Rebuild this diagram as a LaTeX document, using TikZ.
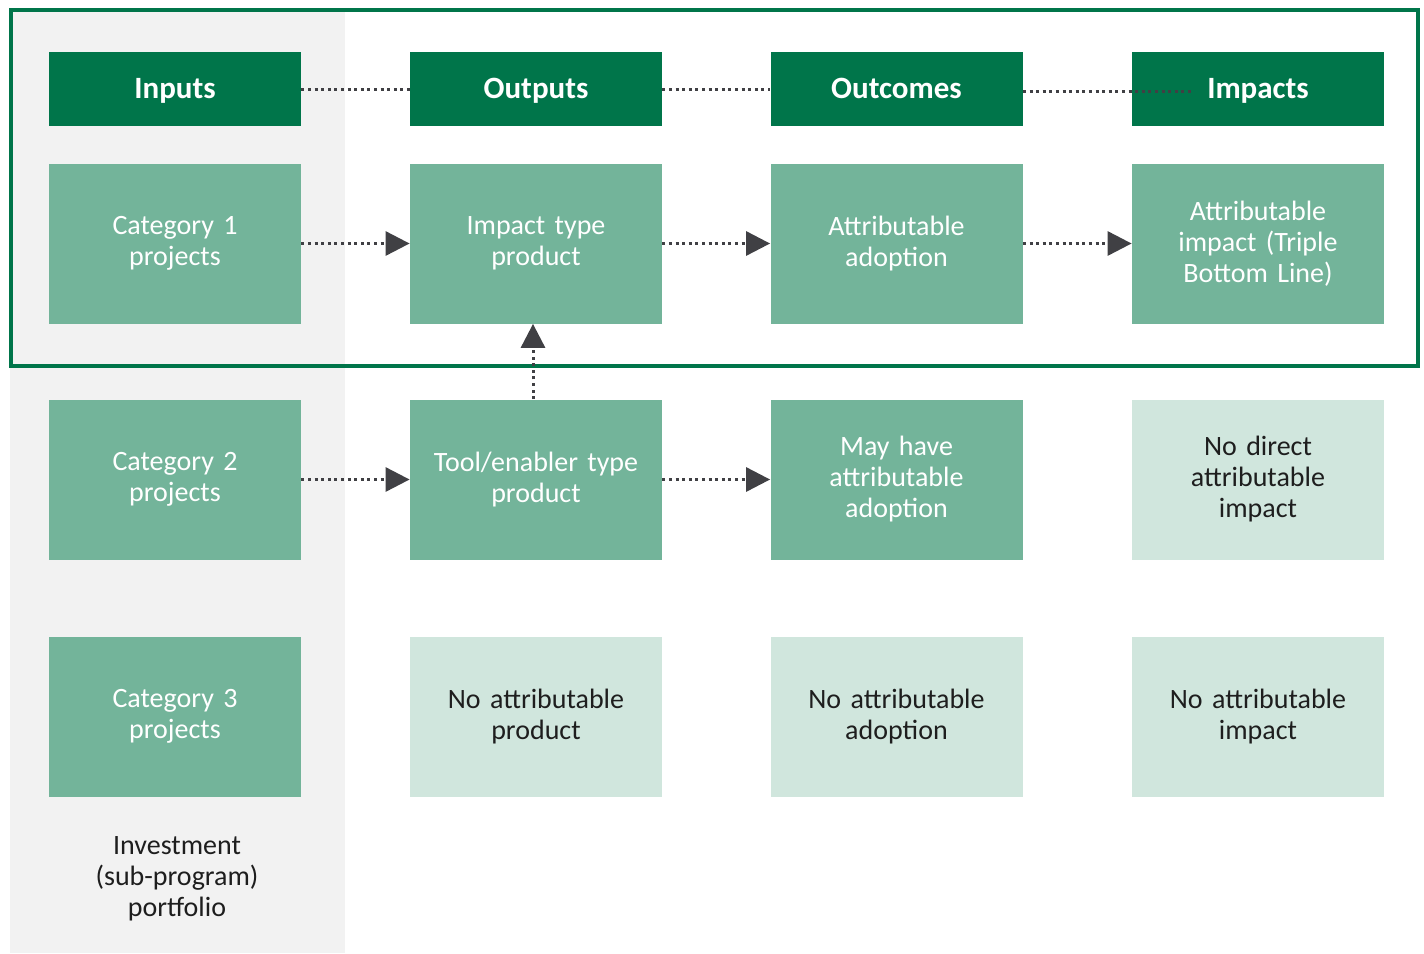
\documentclass[tikz,border=0pt]{standalone}
\usepackage{fontspec}
\setmainfont{Carlito}
\usetikzlibrary{arrows.meta}
\definecolor{dkgreen}{RGB}{0,117,74}
\definecolor{mdgreen}{RGB}{115,180,154}
\definecolor{ltgreen}{RGB}{208,230,221}
\definecolor{panel}{RGB}{242,242,242}
\definecolor{arrowc}{RGB}{64,64,68}
\definecolor{txt}{RGB}{30,30,30}
\tikzset{
  hdr/.style={fill=dkgreen, text=white, font=\fontsize{15.5}{17}\selectfont\bfseries, minimum width=126pt, minimum height=37pt, inner sep=0pt, text height=2.3ex, text depth=0.4ex},
  midbox/.style={fill=mdgreen, text=white, font=\fontsize{14}{15.5}\selectfont, minimum width=126pt, minimum height=80pt, inner sep=0pt, align=center, text width=124pt},
  litbox/.style={fill=ltgreen, text=txt, font=\fontsize{14}{15.5}\selectfont, minimum width=126pt, minimum height=80pt, inner sep=0pt, align=center, text width=124pt},
  dotline/.style={draw=arrowc, line width=1.5pt, dash pattern=on 1.5pt off 1.8pt},
  arr/.style={dotline, -{Triangle[length=12pt,width=12pt,fill=arrowc]}, shorten >=0pt}
}
\begin{document}
\begin{tikzpicture}[x=0.5pt,y=-0.5pt]
\useasboundingbox (0,0) rectangle (1424,953);
\fill[panel] (10,12) rectangle (345,953);
\draw[dkgreen, line width=2pt] (11,10) rectangle (1418,366);
% headers
\node[hdr] (hin) at (175,89) {Inputs};
\node[hdr] (hout) at (536,89) {Outputs};
\node[hdr] (hoc) at (896.5,89) {Outcomes};
\node[hdr] (him) at (1258,89) {Impacts};
% row 1
\node[midbox] (c1) at (175,243.5) {Category 1\\projects};
\node[midbox] (o1) at (536,243.5) {Impact type\\product};
\node[midbox] (a1) at (896.5,243.5) {Attributable\\adoption};
\node[midbox] (i1) at (1258,243.5) {Attributable\\impact (Triple\\Bottom Line)};
% row 2
\node[midbox] (c2) at (175,479.5) {Category 2\\projects};
\node[midbox] (o2) at (536,479.5) {Tool/enabler type\\product};
\node[midbox] (a2) at (896.5,479.5) {May have\\attributable\\adoption};
\node[litbox] (i2) at (1258,479.5) {No direct\\attributable\\impact};
% row 3
\node[midbox] (c3) at (175,716.5) {Category 3\\projects};
\node[litbox] (o3) at (536,716.5) {No attributable\\product};
\node[litbox] (a3) at (896.5,716.5) {No attributable\\adoption};
\node[litbox] (i3) at (1258,716.5) {No attributable\\impact};
% investment label
\node[text=txt, font=\fontsize{14}{15.5}\selectfont, align=center] (inv) at (177,879) {Investment\\(sub-program)\\portfolio};
% header dotted lines
\draw[dotline] (hin.east) -- (hout.west);
\draw[dotline] (hout.east) -- (hoc.west);
\coordinate (himend) at (1192,91);
\draw[dotline] (hoc.east |- himend) -- (himend);
% arrows
\draw[arr] (c1.east) -- (o1.west);
\draw[arr] (o1.east) -- (a1.west);
\draw[arr] (a1.east) -- (i1.west);
\draw[arr] (c2.east) -- (o2.west);
\draw[arr] (o2.east) -- (a2.west);
\draw[arr] (o2.north -| 533,0) -- (o1.south -| 533,0);
\end{tikzpicture}
\end{document}
